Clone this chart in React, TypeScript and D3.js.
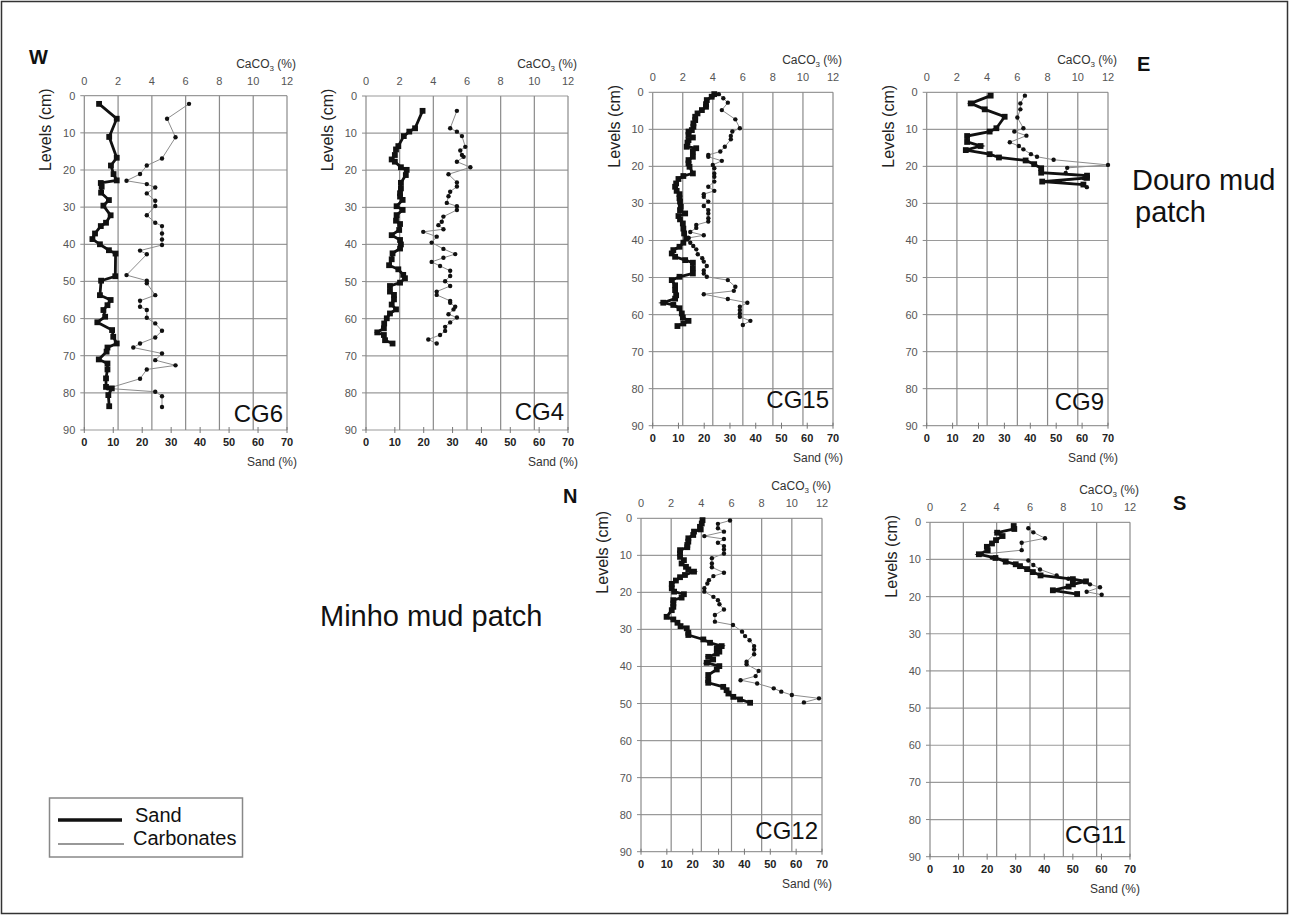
import React from 'react';
import * as d3 from 'd3';

// depth (cm), value (%)
const cg6Sand: [number, number][] = [
  [2.2, 5.1], [6.2, 11.2], [11.1, 8.6], [16.7, 11.2], [18.8, 9.2], [21.1, 10.1], [22.8, 11.2], [23.5, 5.7],
  [24.5, 6.0], [26.1, 5.8], [28.1, 8.5], [29.6, 6.6], [32.2, 9.1], [34.2, 7.5], [35.1, 5.7], [37.1, 3.7],
  [38.6, 2.8], [40.0, 5.4], [41.6, 8.5], [42.5, 10.8], [48.6, 10.7], [49.8, 5.8], [53.7, 5.4], [55.0, 9.1],
  [56.4, 8.0], [57.7, 6.6], [59.5, 7.2], [61.0, 4.5], [63.1, 9.6], [64.9, 10.0], [66.7, 11.2], [67.8, 8.0],
  [68.9, 7.7], [71.0, 5.0], [72.1, 8.0], [73.7, 8.0], [76.1, 7.5], [78.4, 7.5], [78.8, 9.5], [80.6, 8.3],
  [83.6, 8.6],
];
const cg6Carb: [number, number][] = [
  [2.2, 6.2], [6.2, 4.9], [11.2, 5.4], [16.9, 4.6], [18.8, 3.7], [21.1, 3.3], [22.9, 2.5], [23.8, 3.7],
  [24.7, 4.2], [26.3, 3.7], [28.3, 4.2], [29.7, 4.2], [32.2, 3.7], [34.2, 4.2], [35.1, 4.6], [37.1, 4.6],
  [38.7, 4.6], [40.2, 4.6], [41.7, 3.3], [42.7, 3.7], [48.3, 2.5], [49.8, 3.7], [50.5, 3.7], [53.7, 4.2],
  [55.2, 3.3], [56.8, 3.3], [57.7, 3.7], [59.8, 3.7], [61.3, 4.2], [63.3, 4.6], [65.1, 4.2], [66.7, 3.3],
  [67.8, 2.9], [69.4, 4.6], [71.2, 4.2], [72.6, 5.4], [73.7, 3.7], [76.2, 3.3], [78.8, 1.4], [79.7, 4.2],
  [80.9, 4.6], [83.8, 4.6],
];

const cg4Sand: [number, number][] = [
  [4.0, 19.6], [8.7, 17.0], [9.6, 15.0], [10.8, 13.1], [13.5, 11.2], [14.4, 10.4], [15.9, 10.0], [17.1, 8.9],
  [17.7, 10.0], [19.2, 12.1], [19.9, 14.1], [21.3, 13.8], [23.4, 12.1], [24.9, 12.1], [26.2, 11.8], [27.1, 11.8],
  [28.0, 12.7], [29.7, 10.6], [30.7, 12.7], [32.1, 10.6], [33.6, 10.4], [34.5, 11.8], [36.1, 11.5], [37.5, 8.9],
  [38.8, 11.8], [40.0, 12.1], [41.1, 11.8], [42.4, 9.2], [44.0, 8.9], [45.6, 8.0], [46.7, 11.2], [48.2, 12.9],
  [49.1, 13.5], [50.3, 11.8], [51.2, 8.3], [52.7, 8.3], [53.6, 9.7], [54.8, 9.7], [56.2, 8.9], [57.5, 10.4],
  [58.6, 8.3], [59.9, 7.2], [61.3, 6.3], [62.6, 6.2], [63.7, 3.9], [64.4, 6.2], [65.8, 6.6], [66.7, 9.2],
];
const cg4Carb: [number, number][] = [
  [4.0, 5.4], [8.7, 5.0], [9.6, 5.4], [10.8, 5.7], [13.7, 5.9], [14.7, 5.6], [15.9, 5.7], [16.4, 5.8],
  [17.7, 5.4], [19.2, 6.2], [21.1, 4.9], [23.3, 5.4], [24.4, 5.4], [25.8, 5.0], [27.0, 4.9], [28.8, 4.8],
  [29.7, 5.4], [30.7, 5.4], [32.5, 4.6], [33.9, 4.5], [34.8, 4.3], [35.9, 4.6], [36.6, 3.4], [37.9, 4.2],
  [39.5, 3.9], [41.2, 4.6], [42.6, 5.3], [43.6, 4.6], [44.7, 3.9], [45.8, 4.4], [47.1, 5.0], [48.5, 5.0],
  [49.9, 4.7], [51.2, 5.0], [52.7, 4.2], [53.6, 4.2], [55.2, 5.0], [55.7, 5.0], [56.8, 5.3], [57.5, 5.2],
  [58.8, 4.9], [59.7, 5.4], [61.0, 5.0], [62.2, 4.7], [63.3, 4.7], [64.4, 4.4], [65.6, 3.7], [66.7, 4.2],
];

const cg15Sand: [number, number][] = [
  [0.5, 23.9], [1.2, 22.9], [2.1, 21.0], [3.2, 20.7], [3.9, 20.7], [4.8, 19.1], [5.7, 17.4], [6.6, 16.5],
  [7.5, 16.5], [8.4, 15.8], [9.3, 15.8], [10.2, 15.2], [10.6, 13.9], [11.5, 13.9], [12.2, 15.6], [12.9, 13.9],
  [13.6, 13.5], [14.7, 13.2], [15.1, 16.9], [16.0, 15.6], [17.4, 15.6], [18.3, 13.9], [19.2, 13.9], [20.1, 14.3],
  [21.9, 15.6], [22.6, 11.9], [23.4, 10.0], [24.6, 9.1], [25.5, 8.7], [26.6, 9.3], [27.5, 10.4], [28.6, 10.4],
  [29.5, 10.6], [30.9, 10.9], [31.8, 10.6], [32.7, 12.6], [33.4, 10.0], [34.3, 10.6], [35.4, 11.7], [36.8, 11.9],
  [38.1, 12.2], [39.5, 13.0], [40.6, 11.9], [41.7, 10.4], [42.6, 8.0], [43.5, 7.4], [44.4, 8.7], [45.3, 12.6],
  [46.0, 15.6], [47.5, 15.6], [48.9, 15.6], [49.8, 10.4], [50.7, 7.4], [52.1, 8.7], [53.4, 8.7], [54.8, 9.1],
  [55.7, 8.7], [56.8, 4.1], [57.4, 8.0], [58.3, 10.4], [59.7, 11.3], [60.8, 11.7], [61.7, 13.9], [62.4, 11.9],
  [63.1, 9.6],
];
const cg15Carb: [number, number][] = [
  [1.0, 4.0], [0.5, 4.4], [1.6, 4.7], [2.8, 5.0], [4.8, 4.6], [7.3, 5.5], [9.7, 5.8], [10.6, 5.3],
  [11.8, 5.2], [12.7, 5.2], [14.7, 4.8], [16.0, 4.5], [16.9, 3.7], [17.4, 3.7], [18.5, 4.6], [19.6, 4.0],
  [20.5, 4.1], [21.9, 4.1], [22.8, 4.1], [24.1, 4.1], [25.5, 3.7], [26.6, 4.1], [27.5, 3.4], [28.2, 3.4],
  [29.5, 3.7], [30.7, 3.4], [31.8, 3.7], [32.7, 3.7], [34.0, 3.7], [34.9, 3.7], [35.8, 2.9], [36.6, 2.9],
  [37.7, 2.5], [38.6, 3.4], [39.3, 2.4], [40.6, 2.5], [41.5, 2.7], [42.4, 2.9], [43.7, 3.0], [44.8, 3.3],
  [45.7, 3.4], [46.9, 3.6], [48.1, 3.4], [48.9, 3.4], [49.8, 3.6], [50.7, 5.0], [52.5, 5.5], [53.6, 5.4],
  [54.5, 3.4], [55.8, 5.0], [56.8, 6.3], [57.9, 5.8], [58.8, 5.8], [59.7, 5.8], [60.6, 5.8], [61.7, 6.5],
  [62.8, 6.0],
];

const cg9Sand: [number, number][] = [
  [0.9, 24.7], [3.0, 17.0], [4.6, 22.4], [6.6, 30.1], [9.7, 26.9], [10.6, 24.3], [11.8, 15.6], [13.4, 15.6],
  [14.5, 20.8], [15.6, 15.1], [16.7, 24.3], [17.6, 27.9], [18.4, 38.2], [19.4, 41.5], [20.5, 44.2], [21.7, 44.2],
  [22.5, 61.9], [23.1, 61.9], [24.1, 44.6], [24.9, 60.5],
];
const cg9Carb: [number, number][] = [
  [0.9, 6.5], [3.0, 6.2], [4.6, 6.2], [6.8, 6.0], [9.7, 6.4], [10.6, 5.8], [11.7, 6.6], [13.5, 5.5],
  [14.5, 6.1], [15.4, 6.4], [16.7, 6.9], [17.4, 7.3], [18.2, 8.4], [19.6, 12.0], [20.4, 9.3], [21.8, 9.2],
  [22.6, 10.6], [23.2, 10.4], [24.1, 8.8], [25.0, 10.4], [25.6, 10.6],
];

const cg12Sand: [number, number][] = [
  [0.5, 23.8], [1.4, 23.5], [2.3, 22.8], [3.0, 23.1], [3.6, 20.5], [4.5, 20.2], [5.4, 18.3], [6.3, 18.3],
  [7.2, 17.9], [7.8, 17.9], [8.6, 15.1], [9.5, 15.1], [10.4, 15.1], [11.3, 16.6], [12.2, 15.7], [13.1, 17.4],
  [13.8, 18.3], [14.4, 20.5], [15.3, 17.0], [15.9, 15.1], [16.8, 13.5], [17.7, 11.9], [18.9, 11.9], [19.8, 12.8],
  [20.5, 16.6], [21.4, 15.7], [22.1, 12.5], [23.0, 12.5], [23.9, 12.5], [24.8, 11.9], [26.6, 9.9], [27.3, 12.5],
  [28.2, 14.1], [29.1, 15.3], [29.7, 17.7], [30.9, 18.3], [31.5, 18.3], [32.7, 24.1], [33.6, 26.7], [34.5, 31.2],
  [35.1, 29.3], [36.0, 30.3], [36.5, 29.3], [37.4, 26.0], [38.1, 27.9], [39.0, 25.4], [39.9, 30.3], [40.8, 29.3],
  [42.3, 26.0], [43.7, 26.0], [44.4, 26.0], [45.5, 31.8], [46.4, 33.1], [47.3, 33.8], [48.2, 35.7], [48.9, 38.3],
  [49.8, 42.2],
];
const cg12Carb: [number, number][] = [
  [0.6, 5.9], [1.5, 5.1], [2.7, 5.1], [3.6, 5.5], [4.8, 4.2], [5.6, 5.5], [6.6, 5.1], [7.5, 5.5],
  [8.4, 5.5], [9.5, 5.5], [10.8, 4.7], [12.2, 4.7], [13.2, 4.7], [14.7, 5.5], [15.6, 4.8], [16.7, 4.5],
  [17.6, 4.4], [18.9, 4.2], [19.8, 4.2], [21.2, 4.8], [22.1, 5.1], [23.2, 5.2], [24.6, 5.5], [26.1, 4.9],
  [27.9, 4.9], [28.8, 6.1], [30.6, 6.7], [31.8, 6.9], [32.9, 7.2], [34.5, 7.5], [35.4, 7.5], [36.7, 7.5],
  [38.7, 7.0], [39.4, 7.0], [41.2, 7.8], [42.6, 7.6], [43.7, 6.6], [44.6, 7.7], [45.9, 8.8], [46.8, 9.3],
  [47.7, 10.0], [48.6, 11.8], [49.7, 10.8],
];

const cg11Sand: [number, number][] = [
  [1.0, 29.3], [1.8, 29.5], [2.8, 23.5], [3.7, 25.4], [4.8, 23.1], [5.7, 21.7], [6.6, 19.9], [7.5, 20.2],
  [8.6, 17.1], [9.6, 22.9], [10.6, 26.5], [11.3, 30.0], [11.8, 31.5], [12.6, 34.0], [13.4, 36.0], [14.3, 38.7],
  [15.3, 50.0], [15.9, 54.6], [16.7, 50.0], [17.3, 48.5], [18.3, 43.0], [19.3, 51.5],
];
const cg11Carb: [number, number][] = [
  [1.6, 5.9], [2.7, 6.2], [4.3, 6.9], [5.5, 5.5], [7.5, 5.5], [8.6, 3.1], [9.5, 3.7], [10.3, 5.9],
  [11.5, 6.2], [12.7, 6.6], [14.3, 7.6], [15.2, 8.3], [16.7, 9.6], [17.5, 10.2], [18.7, 9.4], [19.5, 10.3],
];

const sandTicks = [0, 10, 20, 30, 40, 50, 60, 70];
const carbTicks = [0, 2, 4, 6, 8, 10, 12];
const levelTicks = [0, 10, 20, 30, 40, 50, 60, 70, 80, 90];

const FONT = 'Liberation Sans, Arial, sans-serif';

type PanelProps = {
  name: string;
  left: number; right: number; top: number; bottom: number;
  sand: [number, number][];
  carb: [number, number][];
  nameDy: number;
};

function Panel({ name, left, right, top, bottom, sand, carb, nameDy }: PanelProps) {
  const y = d3.scaleLinear().domain([0, 90]).range([top, bottom]);
  const xs = d3.scaleLinear().domain([0, 70]).range([left, right]);
  const xc = d3.scaleLinear().domain([0, 12]).range([left, right]);

  const sandLine = d3.line<[number, number]>().x(d => xs(d[1])).y(d => y(d[0]));
  const carbLine = d3.line<[number, number]>().x(d => xc(d[1])).y(d => y(d[0]));

  return (
    <g fontFamily={FONT}>
      {/* grid */}
      {levelTicks.map(t => (
        <line key={'h' + t} x1={left} x2={right} y1={y(t)} y2={y(t)} stroke="#9a9a9a" strokeWidth={1.2} />
      ))}
      {carbTicks.map(t => (
        <line key={'v' + t} x1={xc(t)} x2={xc(t)} y1={top} y2={bottom} stroke="#8a8a8a" strokeWidth={1.2} />
      ))}
      {/* left ticks */}
      {levelTicks.map(t => (
        <g key={'yl' + t}>
          <line x1={left - 4} x2={left} y1={y(t)} y2={y(t)} stroke="#8a8a8a" />
          <text x={left - 9} y={y(t) + 4} textAnchor="end" fontSize={11} fill="#555">{t}</text>
        </g>
      ))}
      {/* top labels */}
      {carbTicks.map(t => (
        <text key={'tc' + t} x={xc(t)} y={top - 11} textAnchor="middle" fontSize={11} fill="#555">{t}</text>
      ))}
      <text x={right + 9} y={top - 28} textAnchor="end" fontSize={12} fill="#333">
        CaCO<tspan fontSize={8} dy={3}>3</tspan><tspan dy={-3}> (%)</tspan>
      </text>
      {/* bottom axis */}
      {sandTicks.map(t => (
        <g key={'bs' + t}>
          <line x1={xs(t)} x2={xs(t)} y1={bottom - 3} y2={bottom + 3} stroke="#777" />
          <text x={xs(t)} y={bottom + 16} textAnchor="middle" fontSize={11} fontWeight="bold" fill="#222">{t}</text>
        </g>
      ))}
      <text x={right + 10} y={bottom + 36} textAnchor="end" fontSize={12} fill="#333">Sand (%)</text>
      <text transform={`translate(${left - 33},${top + 34}) rotate(-90)`} textAnchor="middle" fontSize={16} fill="#222">
        Levels (cm)
      </text>
      <text x={right - 4} y={bottom - nameDy} textAnchor="end" fontSize={24} fill="#111">{name}</text>
      {/* carbonates */}
      <path d={carbLine(carb) ?? ''} fill="none" stroke="#8c8c8c" strokeWidth={1} />
      {carb.map((d, i) => (
        <circle key={'c' + i} cx={xc(d[1])} cy={y(d[0])} r={2.2} fill="#111" />
      ))}
      {/* sand */}
      <path d={sandLine(sand) ?? ''} fill="none" stroke="#111" strokeWidth={2.8} />
      {sand.map((d, i) => (
        <rect key={'s' + i} x={xs(d[1]) - 2.9} y={y(d[0]) - 2.9} width={5.8} height={5.8} fill="#111" />
      ))}
    </g>
  );
}

export default function App() {
  return (
    <svg width={1290} height={915} style={{ position: 'absolute', left: 0, top: 0, background: '#fff' }}>
      <rect x={1.5} y={1.5} width={1286} height={912} fill="#fff" stroke="#333" strokeWidth={1.5} />
      <Panel name="CG6" left={84.3} right={287} top={95.7} bottom={430} sand={cg6Sand} carb={cg6Carb} nameDy={8} />
      <Panel name="CG4" left={366} right={568} top={96} bottom={430} sand={cg4Sand} carb={cg4Carb} nameDy={10} />
      <Panel name="CG15" left={652.7} right={833} top={92.3} bottom={425.7} sand={cg15Sand} carb={cg15Carb} nameDy={18} />
      <Panel name="CG9" left={926.7} right={1108} top={92.3} bottom={425.7} sand={cg9Sand} carb={cg9Carb} nameDy={16} />
      <Panel name="CG12" left={641} right={822} top={518.3} bottom={851.7} sand={cg12Sand} carb={cg12Carb} nameDy={13} />
      <Panel name="CG11" left={930} right={1130} top={522.3} bottom={856.7} sand={cg11Sand} carb={cg11Carb} nameDy={14} />

      <g fontFamily={FONT} fontWeight="bold" fontSize={20} fill="#111">
        <text x={29} y={64}>W</text>
        <text x={1137} y={71}>E</text>
        <text x={563} y={503}>N</text>
        <text x={1173} y={510}>S</text>
      </g>
      <g fontFamily={FONT} fontSize={29} fill="#111">
        <text x={1132} y={190}>Douro mud</text>
        <text x={1135} y={222}>patch</text>
        <text x={320} y={626}>Minho mud patch</text>
      </g>

      {/* legend */}
      <g fontFamily={FONT}>
        <rect x={49.5} y={798} width={193} height={59} fill="#fff" stroke="#888" strokeWidth={1.5} />
        <line x1={58} x2={122} y1={820} y2={820} stroke="#111" strokeWidth={3.5} />
        <line x1={58} x2={124} y1={844} y2={844} stroke="#333" strokeWidth={1.2} />
        <text x={135} y={822} fontSize={20} fill="#111">Sand</text>
        <text x={133} y={845} fontSize={20} fill="#111">Carbonates</text>
      </g>
    </svg>
  );
}
